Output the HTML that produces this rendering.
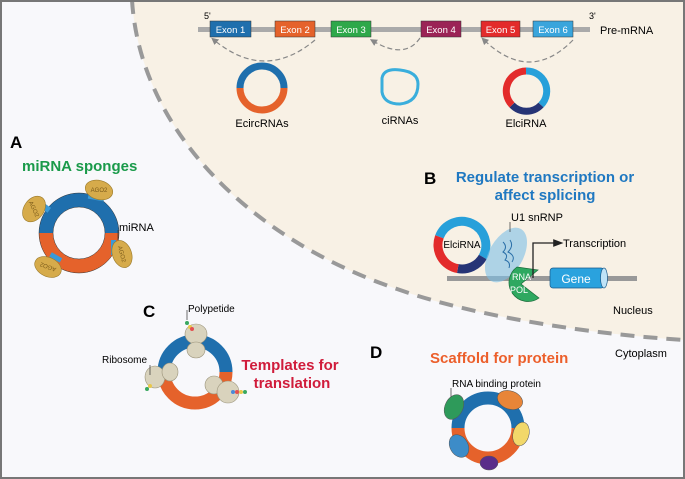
<!DOCTYPE html>
<html><head><meta charset="utf-8"><style>
html,body{margin:0;padding:0;background:#fff}
svg{display:block}
text{font-family:"Liberation Sans",sans-serif}
</style></head><body>
<svg width="685" height="479" viewBox="0 0 685 479" xmlns="http://www.w3.org/2000/svg">
<defs>
<marker id="ah" markerWidth="6" markerHeight="6" refX="3" refY="3" orient="auto"><path d="M0,0 L6,3 L0,6 z" fill="#888"/></marker>
<marker id="ab" markerWidth="8" markerHeight="8" refX="6" refY="4" orient="auto"><path d="M0,1 L8,4 L0,7 z" fill="#222"/></marker>
</defs>
<rect x="0" y="0" width="685" height="479" fill="#f8f8fb"/>
<path d="M132,0 C140,130 250,240 400,290 C480,318 600,335 685,340 L685,0 Z" fill="#f8f1e5"/>
<path d="M132,0 C140,130 250,240 400,290 C480,318 600,335 685,340" fill="none" stroke="#999" stroke-width="4" stroke-dasharray="14,9"/>
<rect x="1" y="1" width="683" height="477" fill="none" stroke="#777" stroke-width="2"/>

<!-- pre-mRNA -->
<rect x="198" y="27" width="392" height="5" fill="#aaa"/>
<g font-size="9.5" fill="#fff" text-anchor="middle">
<rect x="210" y="21" width="41" height="16" fill="#1f6fad" stroke="#333" stroke-width=".5"/><text x="230.5" y="33">Exon 1</text>
<rect x="275" y="21" width="40" height="16" fill="#e5622b" stroke="#333" stroke-width=".5"/><text x="295" y="33">Exon 2</text>
<rect x="331" y="21" width="40" height="16" fill="#2ea84a" stroke="#333" stroke-width=".5"/><text x="351" y="33">Exon 3</text>
<rect x="421" y="21" width="40" height="16" fill="#9b2356" stroke="#333" stroke-width=".5"/><text x="441" y="33">Exon 4</text>
<rect x="481" y="21" width="39" height="16" fill="#e32b2b" stroke="#333" stroke-width=".5"/><text x="500.5" y="33">Exon 5</text>
<rect x="533" y="21" width="40" height="16" fill="#3aa5dc" stroke="#333" stroke-width=".5"/><text x="553" y="33">Exon 6</text>
</g>
<text x="204" y="19" font-size="9">5'</text>
<text x="589" y="19" font-size="9">3'</text>
<text x="600" y="34" font-size="11">Pre-mRNA</text>
<g fill="none" stroke="#888" stroke-width="1.2" stroke-dasharray="5,3">
<path d="M315,40 Q265,82 214,40" marker-end="url(#ah)"/>
<path d="M420,38 Q405,60 373,41" marker-end="url(#ah)"/>
<path d="M573,40 Q530,84 484,40" marker-end="url(#ah)"/>
</g>
<!-- EcircRNA -->
<path d="M240,88 A22,22 0 0 1 284,88" fill="none" stroke="#1f6fad" stroke-width="7"/>
<path d="M240,88 A22,22 0 0 0 284,88" fill="none" stroke="#e5622b" stroke-width="7"/>
<text x="262" y="127" font-size="11" text-anchor="middle">EcircRNAs</text>
<path d="M382,78 Q384,68 400,70 Q418,72 418,84 Q418,102 400,104 Q384,104 382,92 Z" fill="none" stroke="#3aaedc" stroke-width="3"/>
<text x="400" y="124" font-size="11" text-anchor="middle">ciRNAs</text>
<!-- ElciRNA top -->
<g fill="none" stroke-width="7">
<path d="M526,71 A20,20 0 0 1 541,105" stroke="#27a0da"/>
<path d="M541,105 A20,20 0 0 1 512,105" stroke="#263476"/>
<path d="M512,105 A20,20 0 0 1 526,71" stroke="#e32b2b"/>
</g>
<text x="526" y="127" font-size="11" text-anchor="middle">ElciRNA</text>

<!-- A -->
<text x="10" y="148" font-size="17" font-weight="bold">A</text>
<text x="22" y="171" font-size="15" font-weight="bold" fill="#1a9a4a">miRNA sponges</text>
<path d="M46,233 A33,33 0 0 1 112,233" fill="none" stroke="#1f6fad" stroke-width="14"/>
<path d="M46,233 A33,33 0 0 0 112,233" fill="none" stroke="#e5622b" stroke-width="14"/>
<circle cx="79" cy="233" r="40" fill="none" stroke="#333" stroke-width=".5"/>
<circle cx="79" cy="233" r="26" fill="none" stroke="#333" stroke-width=".5"/>
<g fill="#3a9ad8"><rect x="42" y="205" width="8" height="6" transform="rotate(35 46 208)"/><rect x="88" y="196" width="16" height="4" transform="rotate(10 96 198)"/><rect x="111" y="240" width="5" height="15"/><rect x="50" y="255" width="12" height="5" transform="rotate(30 56 257)"/></g>
<g fill="#d6ab4b" stroke="#9b7a2a" stroke-width=".6">
<ellipse cx="34" cy="209" rx="10" ry="14" transform="rotate(35 34 209)"/>
<ellipse cx="99" cy="190" rx="14" ry="9.5" transform="rotate(15 99 190)"/>
<ellipse cx="122" cy="254" rx="9.5" ry="14" transform="rotate(-20 122 254)"/>
<ellipse cx="48" cy="267" rx="14" ry="9.5" transform="rotate(25 48 267)"/>
</g>
<g font-size="6" fill="#7a5a1a" text-anchor="middle"><text x="34" y="211" transform="rotate(65 34 209)">AGO2</text><text x="99" y="192">AGO2</text><text x="122" y="256" transform="rotate(75 122 254)">AGO2</text><text x="48" y="269" transform="rotate(200 48 267)">AGO2</text></g>
<line x1="118" y1="230" x2="118" y2="240" stroke="#333" stroke-width=".7"/>
<text x="119" y="231" font-size="11">miRNA</text>

<!-- B -->
<text x="424" y="184" font-size="17" font-weight="bold">B</text>
<text x="545" y="182" font-size="15" font-weight="bold" fill="#1f78c1" text-anchor="middle">Regulate transcription or</text>
<text x="545" y="200" font-size="15" font-weight="bold" fill="#1f78c1" text-anchor="middle">affect splicing</text>
<rect x="447" y="276" width="190" height="5" fill="#999"/>
<g fill="none" stroke-width="9">
<path d="M439.4,236.8 A24,24 0 1 1 482.8,257" stroke="#27a0da"/>
<path d="M482.8,257 A24,24 0 0 1 457.8,268.6" stroke="#263476"/>
<path d="M457.8,268.6 A24,24 0 0 1 439.4,236.8" stroke="#e32b2b"/>
</g>
<text x="462" y="248" font-size="10" text-anchor="middle">ElciRNA</text>
<ellipse cx="506" cy="255" rx="17" ry="30" transform="rotate(30 506 255)" fill="#7dc0e6" opacity=".6"/>
<path d="M503,242 q5,5 0,10 q6,3 2,8 q6,2 4,8 M510,240 q4,6 -2,12 q8,4 4,10" fill="none" stroke="#2a6fa8" stroke-width="1"/>
<line x1="510" y1="222" x2="510" y2="232" stroke="#333" stroke-width=".7"/>
<text x="511" y="221" font-size="11">U1 snRNP</text>
<path d="M520,267 A17,17 0 1 0 542,298 L524,284 L541,270 Z" fill="#2ea860" stroke="#1a6a3a" stroke-width=".7" transform="translate(-3,0)"/>
<text x="512" y="280" font-size="9" fill="#fff">RNA</text><text x="510" y="293" font-size="9" fill="#fff">POL</text>
<path d="M533,278 L533,243 L561,243" fill="none" stroke="#222" stroke-width="1.3" marker-end="url(#ab)"/>
<text x="563" y="247" font-size="11">Transcription</text>
<rect x="550" y="268" width="54" height="20" rx="3" fill="#2aa2de" stroke="#1a5a8a" stroke-width=".7"/>
<ellipse cx="604" cy="278" rx="3.5" ry="10" fill="#bfe3f7" stroke="#1a5a8a" stroke-width=".7"/>
<text x="576" y="283" font-size="12" fill="#fff" text-anchor="middle">Gene</text>
<text x="613" y="314" font-size="11">Nucleus</text>
<text x="615" y="357" font-size="11">Cytoplasm</text>

<!-- C -->
<text x="143" y="317" font-size="17" font-weight="bold">C</text>
<text x="188" y="312" font-size="10">Polypetide</text>
<line x1="187" y1="310" x2="187" y2="320" stroke="#333" stroke-width=".7"/>
<path d="M164,372 A31,31 0 0 1 226,372" fill="none" stroke="#1f6fad" stroke-width="13"/>
<path d="M164,372 A31,31 0 0 0 226,372" fill="none" stroke="#e5622b" stroke-width="13"/>
<g fill="#d9d3bd" stroke="#9a937a" stroke-width=".6">
<ellipse cx="196" cy="334" rx="11" ry="10"/><ellipse cx="196" cy="350" rx="9" ry="8"/>
<ellipse cx="155" cy="377" rx="10" ry="11"/><ellipse cx="170" cy="372" rx="8" ry="9"/>
<ellipse cx="214" cy="385" rx="9" ry="9"/><ellipse cx="228" cy="392" rx="11" ry="11"/>
</g>
<circle cx="187" cy="323" r="2" fill="#3aa860"/><circle cx="190" cy="327" r="2" fill="#e9c84a"/><circle cx="192" cy="329" r="2" fill="#e35050"/>
<circle cx="150" cy="386" r="2" fill="#e9c84a"/><circle cx="147" cy="389" r="2" fill="#3aa860"/>
<circle cx="233" cy="392" r="2" fill="#4a8ad8"/><circle cx="237" cy="392" r="2" fill="#e35050"/><circle cx="241" cy="392" r="2" fill="#e9c84a"/><circle cx="245" cy="392" r="2" fill="#3aa860"/>
<text x="102" y="363" font-size="10">Ribosome</text>
<line x1="150" y1="365" x2="150" y2="375" stroke="#333" stroke-width=".7"/>
<text x="290" y="370" font-size="15" font-weight="bold" fill="#d01c3b" text-anchor="middle">Templates for</text>
<text x="292" y="388" font-size="15" font-weight="bold" fill="#d01c3b" text-anchor="middle">translation</text>

<!-- D -->
<text x="370" y="358" font-size="17" font-weight="bold">D</text>
<text x="430" y="363" font-size="15" font-weight="bold" fill="#ec5f2b">Scaffold for protein</text>
<text x="452" y="387" font-size="10">RNA binding protein</text>
<line x1="451" y1="388" x2="451" y2="398" stroke="#333" stroke-width=".7"/>
<path d="M458,428 A30,30 0 0 1 518,428" fill="none" stroke="#1f6fad" stroke-width="13"/>
<path d="M458,428 A30,30 0 0 0 518,428" fill="none" stroke="#e5622b" stroke-width="13"/>
<g stroke="#555" stroke-width=".5">
<ellipse cx="454" cy="407" rx="9" ry="13" transform="rotate(25 454 407)" fill="#2e9a5a"/>
<ellipse cx="510" cy="400" rx="13" ry="9" transform="rotate(20 510 400)" fill="#e88538"/>
<ellipse cx="521" cy="434" rx="8" ry="12" transform="rotate(15 521 434)" fill="#f2d86a"/>
<ellipse cx="459" cy="446" rx="9" ry="12" transform="rotate(-30 459 446)" fill="#3d8cc8"/>
<ellipse cx="489" cy="463" rx="9" ry="7" fill="#5a2e8a"/>
</g>
</svg>
</body></html>
